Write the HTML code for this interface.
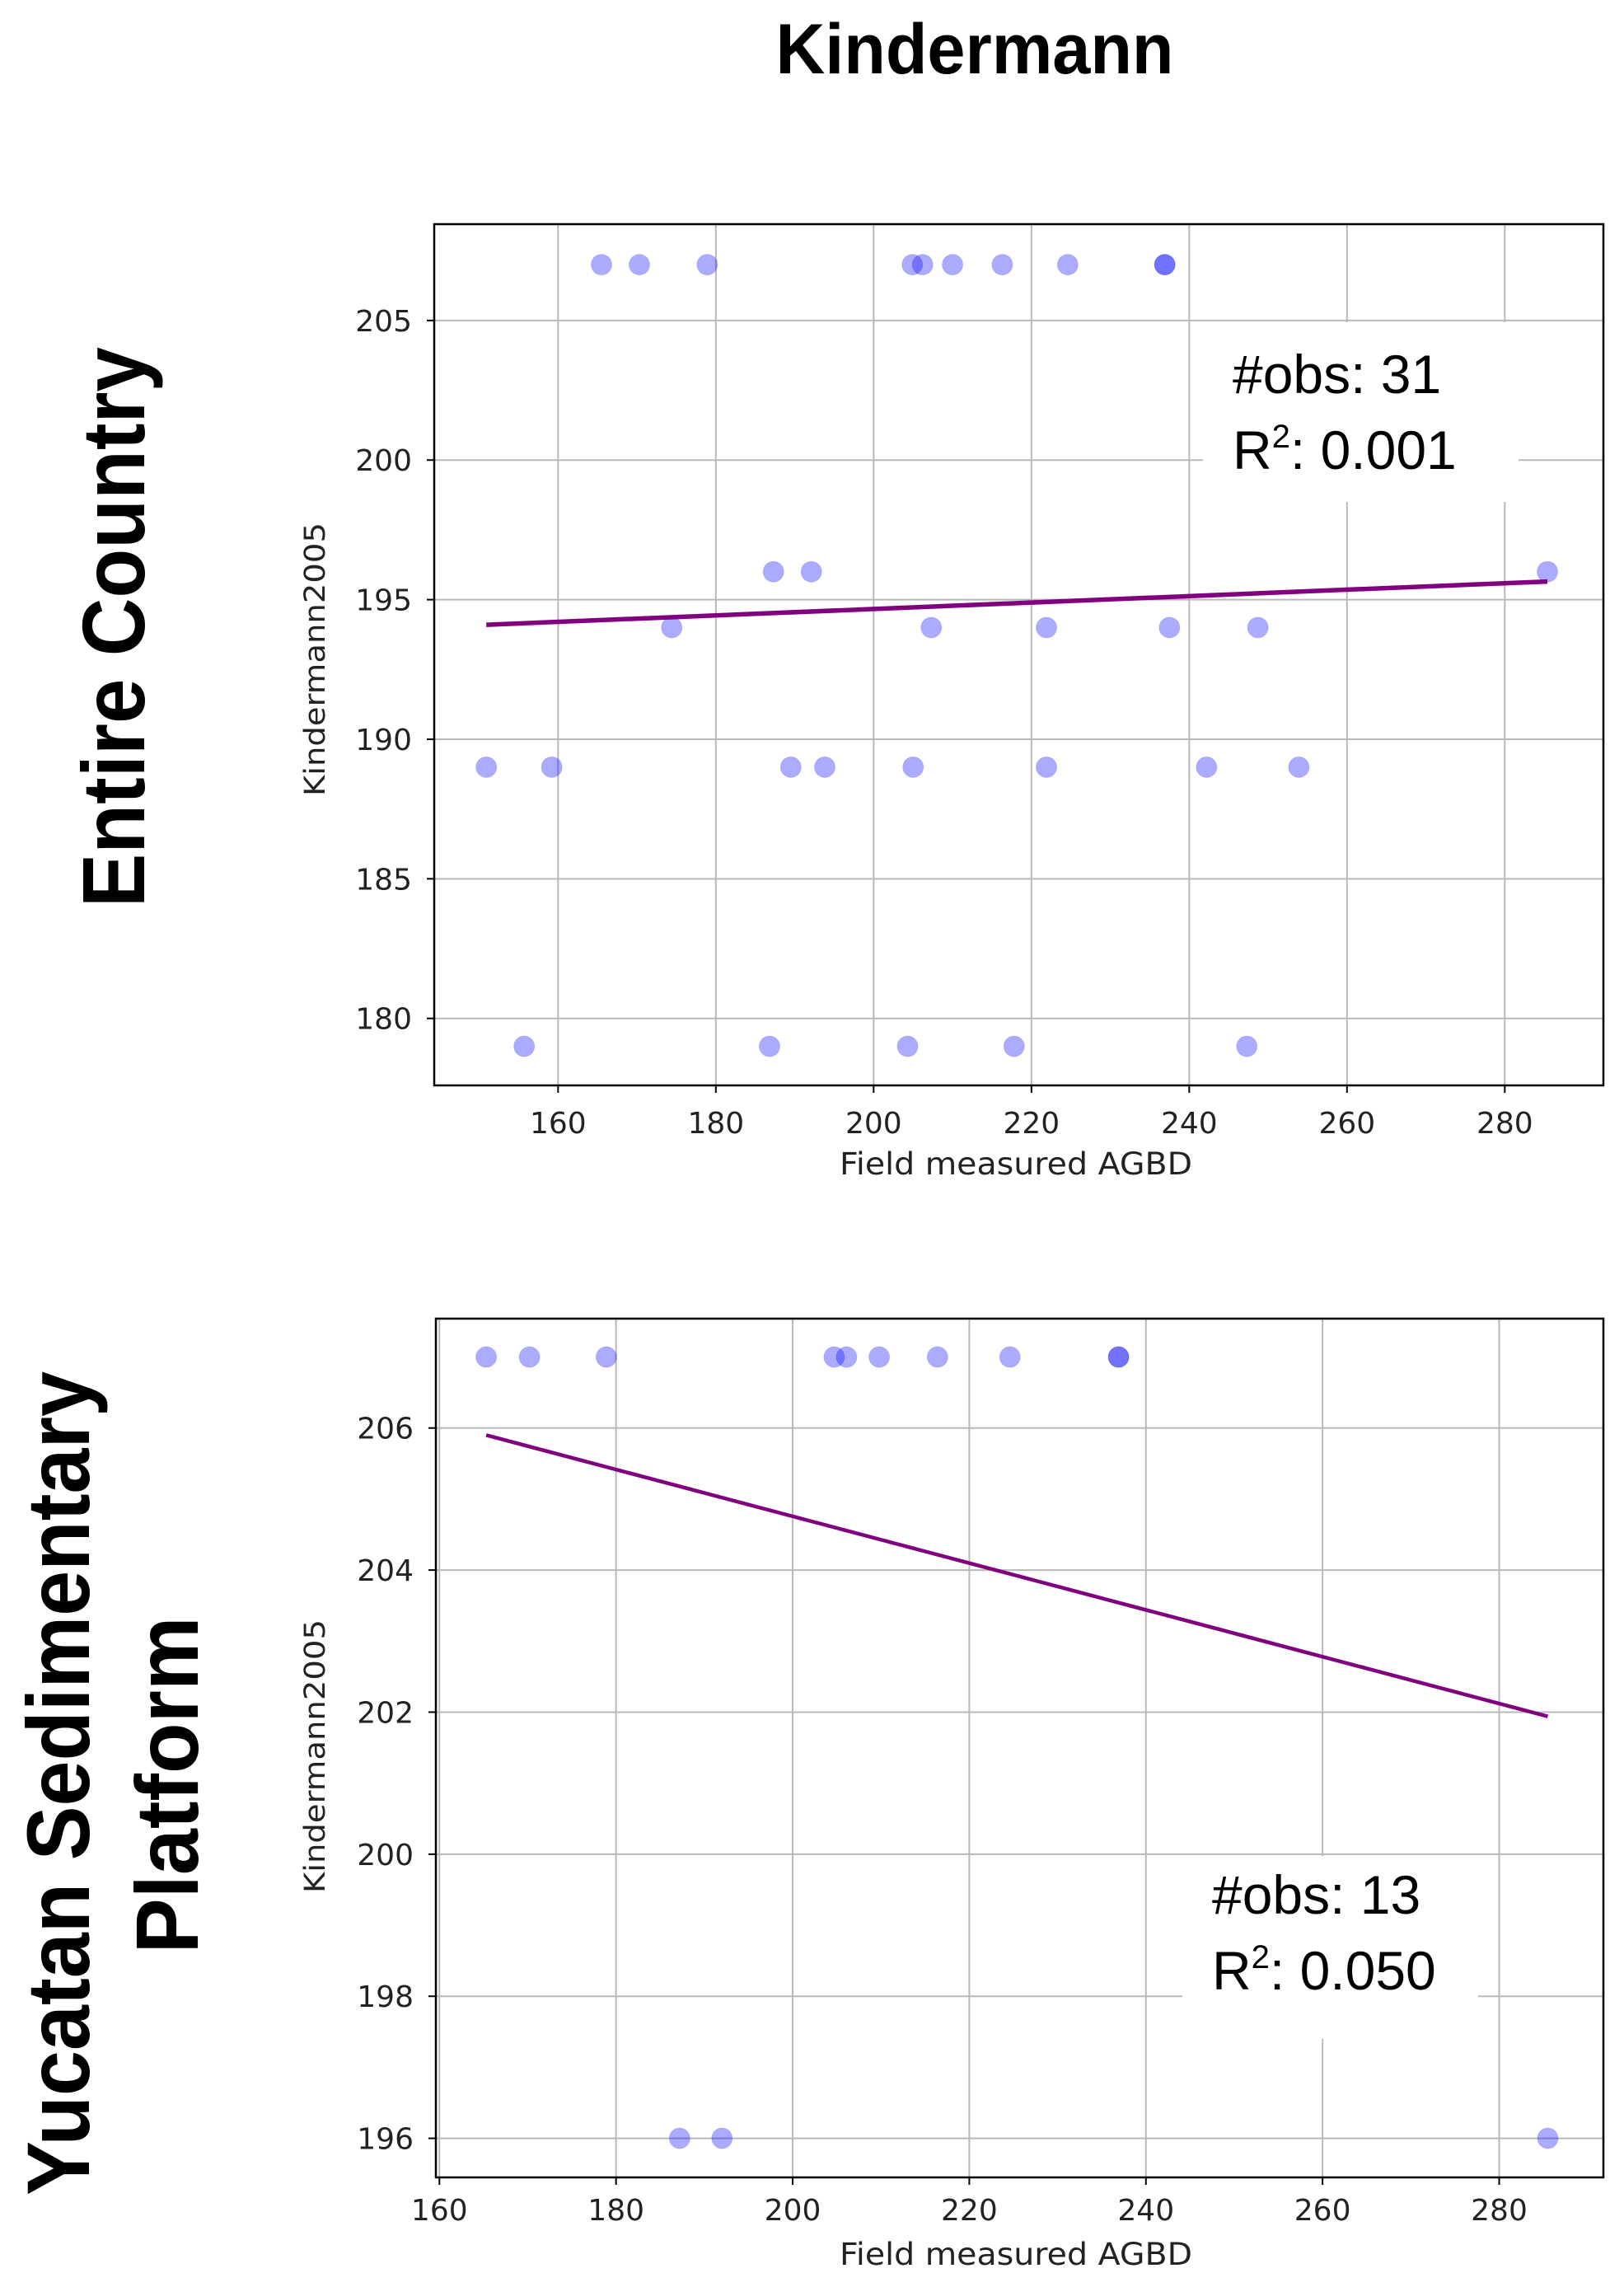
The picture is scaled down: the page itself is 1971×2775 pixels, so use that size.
<!DOCTYPE html>
<html><head><meta charset="utf-8"><style>
html,body{margin:0;padding:0;background:#fff}
svg{display:block;font-family:"Liberation Sans","DejaVu Sans",sans-serif}
</style></head><body>
<svg id="fig" width="1971" height="2775" viewBox="0 0 1971 2775" xmlns="http://www.w3.org/2000/svg">
<text x="1183" y="89" font-size="86" font-weight="bold" text-anchor="middle" textLength="483" lengthAdjust="spacingAndGlyphs">Kindermann</text>
<text transform="translate(175,761) rotate(-90)" font-size="108" font-weight="bold" text-anchor="middle" textLength="680" lengthAdjust="spacingAndGlyphs">Entire Country</text>
<text transform="translate(108,2164) rotate(-90)" font-size="108" font-weight="bold" text-anchor="middle" textLength="1000" lengthAdjust="spacingAndGlyphs">Yucatan Sedimentary</text>
<text transform="translate(240,2166) rotate(-90)" font-size="108" font-weight="bold" text-anchor="middle" textLength="409" lengthAdjust="spacingAndGlyphs">Platform</text>
<g id="c1"></g>
<g id="c2"></g>
</svg>
<script>
// Chart 1 data
const c1X = [165.5,170.3,178.9,204.9,206.2,210,216.3,224.6,236.9,236.9,187.3,192.1,285.4,174.4,207.3,221.9,237.5,248.7,150.9,159.2,189.5,193.8,205,221.9,242.2,253.9,155.7,186.8,204.3,217.8,247.3];
const c1Y = [207,207,207,207,207,207,207,207,207,207,196,196,196,194,194,194,194,194,189,189,189,189,189,189,189,189,179,179,179,179,179];
const c1FitX = [150.9,285.4];
const c1FitY = [194.1,195.65];
const c1XTicks = [160,180,200,220,240,260,280];
const c1YTicks = [180,185,190,195,200,205];
const c1Obs = "31";
const c1R2 = "0.001";
// Chart 2 data
const c2X = [165.3,170.2,178.9,204.7,206.1,209.8,216.4,224.6,236.9,236.9,187.2,192.0,285.5];
const c2Y = [207,207,207,207,207,207,207,207,207,207,196,196,196];
const c2FitX = [165.3,285.5];
const c2FitY = [205.9,201.94];
const c2XTicks = [160,180,200,220,240,260,280];
const c2YTicks = [196,198,200,202,204,206];
const c2Obs = "13";
const c2R2 = "0.050";

const NS="http://www.w3.org/2000/svg";
const TF='"DejaVu Sans","Liberation Sans",sans-serif';
function mk(parent,tag,attrs,text){const e=document.createElementNS(NS,tag);for(const k in attrs)e.setAttribute(k,attrs[k]);if(text!==undefined)e.textContent=text;parent.appendChild(e);return e;}

function draw(g,cfg){
  const L=cfg.L,R=cfg.R,T=cfg.T,B=cfg.B;
  const sx=v=>L+(v-cfg.x0)/(cfg.x1-cfg.x0)*(R-L);
  const sy=v=>B-(v-cfg.y0)/(cfg.y1-cfg.y0)*(B-T);
  cfg.xt.forEach(t=>{
    const l=mk(g,'line',{x1:sx(t),x2:sx(t),y1:T,y2:B,stroke:'#b8b8b8','stroke-width':2});
    
    
    const tk=mk(g,'line',{x1:sx(t),x2:sx(t),y1:B,y2:B+9,stroke:'#000','stroke-width':2});
    
    
    const tx=mk(g,'text',{x:sx(t),y:B+cfg.xtOff,'font-size':36,'font-family':TF,'text-anchor':'middle',fill:'#222'},String(t));
    
    
  });
  cfg.yt.forEach(t=>{
    const l=mk(g,'line',{x1:L,x2:R,y1:sy(t),y2:sy(t),stroke:'#b8b8b8','stroke-width':2});
    
    
    const tk=mk(g,'line',{x1:L-9,x2:L,y1:sy(t),y2:sy(t),stroke:'#000','stroke-width':2});
    
    
    const tx=mk(g,'text',{x:L-27,y:sy(t)+13,'font-size':36,'font-family':TF,'text-anchor':'end',fill:'#222'},String(t));
    
    
  });
  const bx=mk(g,'rect',{x:cfg.box[0],y:cfg.box[1],width:cfg.box[2],height:cfg.box[3],fill:'#fff'});
  
  
  const t1=mk(g,'text',{x:cfg.box[0]+36,y:cfg.box[1]+cfg.tOff,'font-size':66,fill:'#000'},'#obs: '+cfg.obs);
  
  
  const t2=mk(g,'text',{x:cfg.box[0]+36,y:cfg.box[1]+cfg.tOff+92,'font-size':66,fill:'#000'});
  
  
  t2.innerHTML='R<tspan font-size="40" dy="-26">2</tspan><tspan dy="26">: '+cfg.r2+'</tspan>';
  cfg.xs.forEach((v,i)=>{
    const c=mk(g,'circle',{cx:sx(v),cy:sy(cfg.ys[i]),r:12.5,fill:'#0000ff','fill-opacity':0.33,stroke:'#0000ff','stroke-opacity':0.15,'stroke-width':1});
    
    
  });
  const fl=mk(g,'line',{x1:sx(cfg.fx[0]),y1:sy(cfg.fy[0]),x2:sx(cfg.fx[1]),y2:sy(cfg.fy[1]),stroke:'#800080','stroke-width':cfg.lw});
  
  
  const fr=mk(g,'rect',{x:L,y:T,width:R-L,height:B-T,fill:'none',stroke:'#000','stroke-width':2.5});
  
  
  const xl=mk(g,'text',{x:1233,y:cfg.xlabY,'font-size':37,'font-family':TF,'text-anchor':'middle',fill:'#222',textLength:428,lengthAdjust:'spacingAndGlyphs'},'Field measured AGBD');
  
  
  const yl=mk(g,'text',{transform:'translate(394,'+cfg.ylabC+') rotate(-90)','font-size':35,'font-family':TF,'text-anchor':'middle',fill:'#222',textLength:332,lengthAdjust:'spacingAndGlyphs'},'Kindermann2005');
  
  
}
draw(document.getElementById('c1'),{L:527,R:1946,T:272,B:1317,x0:144.3,x1:292.5,y0:177.6,y1:208.45,xt:c1XTicks,yt:c1YTicks,xs:c1X,ys:c1Y,fx:c1FitX,fy:c1FitY,obs:c1Obs,r2:c1R2,box:[1460,391,383,218],tOff:86,lw:5.5,xlabY:1425,xtOff:58,ylabC:800});
draw(document.getElementById('c2'),{L:529,R:1946,T:1600,B:2642,x0:159.6,x1:291.8,y0:195.45,y1:207.54,xt:c2XTicks,yt:c2YTicks,xs:c2X,ys:c2Y,fx:c2FitX,fy:c2FitY,obs:c2Obs,r2:c2R2,box:[1435,2252,359,222],tOff:70,lw:4.5,xlabY:2748,xtOff:52,ylabC:2131});
</script>
</body></html>
